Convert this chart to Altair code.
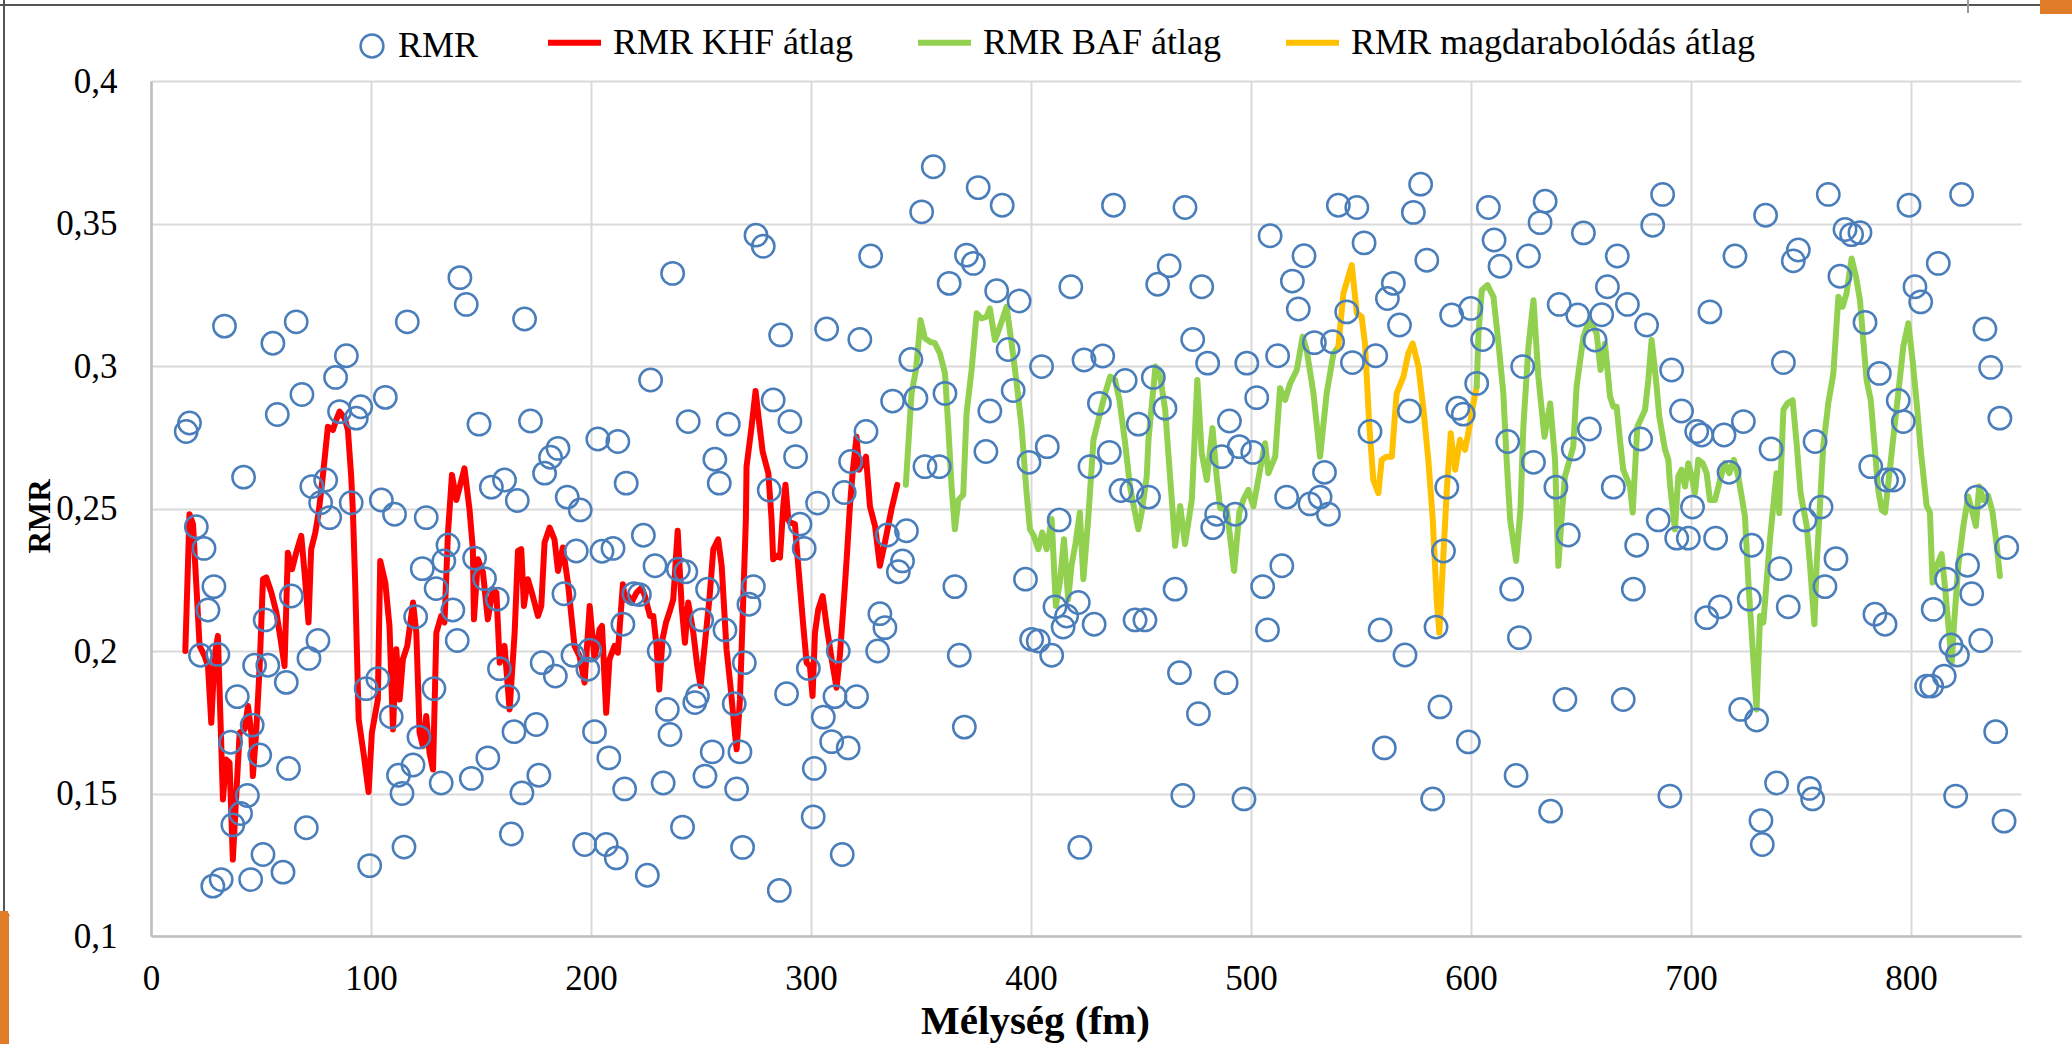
import altair as alt
import pandas as pd

# Individual RMR measurements: depth (fm) and RMR value
rmr_depth = [
    33.4, 55.4, 66, 88.8, 83.9, 68.6, 57.4, 17.5, 16, 42.1, 85.7, 95.3, 93.3, 106.5, 116.5, 140.4, 143.3, 169.8,
    149.1, 172.5, 203.1, 212.2, 185, 181.6, 178.9, 216, 73.1, 79.4, 77.1, 91, 104.7, 154.7, 160.7, 166.5, 189.2, 195.1,
    20.6, 24.1, 28.6, 25.9, 22.5, 30.4, 39.2, 46, 36.2, 49.4, 43.8, 40.7, 37.2, 70.6, 50.9, 31.9, 28.1, 45.3, 60,
    62.5, 47.1, 53.1, 61.5, 51.9, 63.8, 71.8, 75.9, 81.2, 97.8, 103.1, 109.2, 99.4, 110.7, 125.1, 123.3, 135, 133.1,
    129.6, 120.3, 137.2, 139.2, 128.6, 121.8, 112.5, 119.1, 114.1, 115, 131.9, 145.6, 153.1, 165, 175.1, 168.6,
    176.3, 163.8, 147.1, 151.6, 157.4, 158.4, 162.2, 177.8, 183.8, 193.3, 187.7, 205, 210, 191.8, 199.4, 198.6,
    201.6, 208.1, 215.3, 197.1, 206.9, 211.5, 214.5,
    355.6, 376, 386.9, 350.3, 275, 278.3, 237.1, 327.1, 370.7, 373.8, 362.8, 384.4, 394.6, 418.1, 286.2, 307.1,
    322.2, 345.4, 389.6, 404.8, 424.1, 227.1, 282.8, 290.4, 244.2, 262.4, 256.3, 258.3, 293, 281, 303, 315.1, 325,
    318, 337.1, 347.7, 360.9, 381.3, 391.9, 351.8, 358.3, 379.5, 407.4, 399.1,
    223.8, 229.1, 239.7, 243.1, 219.5, 222, 231, 253, 250.3, 260.9, 273.8, 271.8, 269.7, 248.4, 247.2, 234.7, 235.9,
    265.1, 255.1, 267.7, 251.8, 232.8, 266.2, 241.6, 225.6, 268.9, 285.6, 288.9, 298.8, 295, 296.9, 305.6, 310.9,
    320.7, 309.4, 316.9, 301.5, 301, 314.2, 312.4, 330.3, 331.3, 333.6, 334.7, 343.4, 341.6, 339.7, 365.4, 367.4,
    369.7, 397.5, 410.9, 421.5, 416.2, 414.6, 400.3, 403.3, 409.4, 412.8, 422.2,
    437.5, 470, 539.7, 548.1, 577.1, 573.8, 607.9, 633.7, 631.4, 508.7, 524.1, 551.4, 579.9, 610.5, 613.2, 626.1,
    462.8, 457.6, 477.6, 518.8, 521.5, 564.7, 562, 567.5, 543.5, 591.2, 599.9, 605.3, 473.5, 528.8, 537.1, 512.1,
    546.1, 556.7, 498.1, 480.3, 432.6, 623.5, 602.6, 442.8, 455.6, 431.1, 460.9, 448.8, 502.6, 490.2, 572, 594,
    596.5, 554.1, 616.7, 435.6, 426.8, 486.7, 494.7, 500.8, 533.4, 628.4, 589, 440.9, 445.8, 453.4, 516.2, 526.8,
    531.4,
    484.4, 482.6, 492.8, 535.2, 587.5, 584.1, 558.7, 570, 585.9, 598.8, 560.6, 582.6, 618.5, 622, 620.5, 636.2,
    428.7, 447.3, 451.8, 465.5, 467.5, 488.7, 476.1, 469, 496.8, 505.3, 514, 507.5,
    687.1, 682.6, 651.1, 666.5, 662, 640.1, 648.5, 659.4, 671.1, 679.8, 656.4, 691.2, 733.9, 762.4, 799.1, 823,
    770, 773, 776.8, 720, 748.8, 746.5, 767.7, 812.4, 801.8, 804.4, 708.6, 779.1, 833.6, 836.2, 840.4, 742, 785.6,
    794.2, 796.5, 653.8, 646.5, 677.1, 695.7, 702.6, 704.8, 715, 723.8, 736.4, 756.4, 717.3, 781.7, 788.9, 792,
    638.6, 664.7, 829.8, 700.7, 759.1,
    644.2, 675.3, 685.1, 693.5, 698.8, 711.2, 673.8, 727.6, 740.4, 751.8, 765.9, 760.9, 744.2, 726.5, 713.2,
    707.1, 783.6, 788.2, 843.5, 825.7, 816.2, 827.6, 810.1, 831.7, 818.2, 821.1, 815.1, 807.1, 809.4, 642.7, 669.2,
    722.6, 729.8, 838.5, 738.9, 753.8, 755.3, 690.4, 820.3, 842.3, 731.8, 732.4,
]
rmr_value = [
    0.314, 0.308, 0.3155, 0.3036, 0.296, 0.290, 0.283, 0.280, 0.277, 0.261, 0.284, 0.2857, 0.2817, 0.289, 0.3155,
    0.331, 0.3216, 0.3165, 0.2796, 0.2807, 0.2744, 0.2735, 0.2711, 0.268, 0.2624, 0.2589, 0.2577, 0.26, 0.252, 0.252,
    0.253, 0.2575, 0.26, 0.2528, 0.254, 0.2495,
    0.2436, 0.236, 0.2226, 0.2144, 0.1985, 0.1988, 0.184, 0.174, 0.168, 0.1635, 0.1493, 0.143, 0.139, 0.138, 0.1286,
    0.1198, 0.1175, 0.1198, 0.1224, 0.1588, 0.195, 0.195, 0.189, 0.2109, 0.2193, 0.1974, 0.2037, 0.2468, 0.1868,
    0.1903, 0.1769, 0.1247, 0.248, 0.2468, 0.2289, 0.2372, 0.2316, 0.2219, 0.212, 0.2144, 0.2037, 0.1868, 0.1698,
    0.1564, 0.16, 0.15, 0.1312, 0.1537, 0.1553, 0.1625, 0.1717, 0.1742, 0.1502, 0.1564, 0.1358, 0.2326, 0.2254,
    0.2182, 0.1938, 0.184, 0.1959, 0.1912, 0.2351, 0.2201, 0.235, 0.236, 0.1985, 0.2003, 0.1936, 0.1717, 0.1625,
    0.1516, 0.1321, 0.1321, 0.1274, 0.2094,
    0.3699, 0.3626, 0.3564, 0.3541, 0.3459, 0.342, 0.3325, 0.3386, 0.3389, 0.336, 0.329, 0.3264, 0.3228, 0.3278,
    0.3109, 0.313, 0.3093, 0.3023, 0.3058, 0.2998, 0.3021, 0.2951, 0.2881, 0.2805, 0.2805, 0.2796, 0.2673, 0.2589,
    0.2682, 0.2565, 0.2519, 0.2556, 0.277, 0.2665, 0.2877, 0.2887, 0.2904, 0.2842, 0.2914, 0.2647, 0.2647, 0.270,
    0.2717, 0.2662,
    0.2406, 0.2299, 0.2287, 0.2278, 0.2201, 0.2198, 0.2, 0.2217, 0.2109, 0.2074, 0.2226, 0.2164, 0.1959, 0.1842,
    0.1819, 0.1795, 0.1707, 0.1815, 0.1646, 0.1646, 0.1561, 0.1537, 0.1516, 0.1382, 0.1213, 0.1311, 0.116, 0.185,
    0.1939, 0.2445, 0.236, 0.1768, 0.184, 0.184, 0.1682, 0.166, 0.1588, 0.1418, 0.1286, 0.2, 0.2, 0.2131, 0.2082,
    0.2407, 0.2422, 0.2316, 0.2278, 0.2226, 0.1985, 0.1733, 0.2252, 0.2155, 0.217, 0.2123, 0.2084, 0.2041, 0.2035,
    0.1985, 0.246, 0.1311,
    0.3564, 0.3556, 0.3564, 0.3556, 0.3638, 0.3539, 0.3556, 0.3578, 0.3503, 0.3457, 0.3387, 0.3432, 0.3371, 0.3442,
    0.335, 0.3386, 0.3352, 0.3287, 0.3278, 0.3298, 0.32, 0.329, 0.3237, 0.3144, 0.319, 0.3179, 0.3202, 0.3093,
    0.3093, 0.3082, 0.3085, 0.3036, 0.3012, 0.3036, 0.301, 0.301, 0.3035, 0.2998, 0.2939, 0.2949, 0.296, 0.2869,
    0.2852, 0.2796, 0.2889, 0.2807, 0.2842, 0.2852, 0.2831, 0.277, 0.2735, 0.2697, 0.2647, 0.2682, 0.2717, 0.2697,
    0.2627, 0.2662, 0.2575, 0.2563, 0.2563, 0.254, 0.254, 0.2516, 0.254,
    0.248, 0.2433, 0.248, 0.248, 0.2351, 0.2084, 0.2074, 0.1986, 0.1804, 0.1681, 0.166, 0.1481, 0.2217, 0.2047,
    0.1563, 0.1438, 0.2094, 0.2109, 0.2109, 0.2217, 0.1924, 0.1889, 0.178, 0.1493, 0.1481, 0.2226, 0.2299, 0.2074,
    0.3602, 0.3494, 0.3467, 0.3386, 0.3278, 0.3216, 0.3179, 0.318, 0.3216, 0.3144, 0.3091, 0.2986, 0.3529, 0.3602,
    0.3564, 0.3602, 0.3479, 0.3461, 0.3468, 0.3386, 0.3407, 0.3369, 0.3315, 0.336, 0.3278, 0.3225, 0.319, 0.3153,
    0.313, 0.2995, 0.2817, 0.3012, 0.2974, 0.2879, 0.2805, 0.2779, 0.2709, 0.2744, 0.2842, 0.277, 0.2758, 0.2758,
    0.2805, 0.2709, 0.2735, 0.2627, 0.2647, 0.26, 0.26, 0.2575, 0.2575, 0.254, 0.2505, 0.2505,
    0.2407, 0.2371, 0.246, 0.2396, 0.2396, 0.2396, 0.2217, 0.2371, 0.2289, 0.246, 0.2324, 0.2226, 0.2155, 0.2182,
    0.2155, 0.2117, 0.2129, 0.2094, 0.2363, 0.2301, 0.2252, 0.2201, 0.2146, 0.2037, 0.2021, 0.1986, 0.1912, 0.1877,
    0.1877, 0.183, 0.183, 0.1795, 0.1758, 0.1717, 0.1537, 0.1518, 0.1481, 0.1491, 0.1491, 0.1403, 0.1405, 0.1321,
]

# Running averages per zone
khf_depth = [
    15.6, 17.5, 19.1, 22.1, 24.4, 25.9, 27.4, 28.9, 30.4, 32.7, 34.2, 35.7, 37.2, 38.8, 40.3, 42.5, 44.1, 45.6, 46.3,
    47.8, 49.4, 50.9, 52.4, 54.7, 57.0, 58.9, 60.7, 62.2, 64.1, 66.0, 68.3, 69.8, 71.6, 72.8, 74.7, 76.2, 78.1, 80.4,
    82.7, 84.2, 85.7, 88.0, 89.5, 91.0, 91.8, 92.8, 94.4, 96.8, 98.9, 100.4, 103.1, 104.2, 106.5, 108.4, 110.0,
    111.5, 113.0, 114.5, 116.5, 119.1, 120.6, 122.1, 123.6, 125.1, 126.6, 128.2, 129.7, 131.9, 133.4, 135.0, 136.8,
    138.8, 142.5, 144.8, 146.3, 146.8, 148.6, 150.9, 153.1, 155.4, 157.0, 158.5, 160.7, 163.0, 165.3, 166.8, 168.3,
    169.5, 171.3, 173.1, 175.9, 177.4, 178.9, 181.2, 183.4, 185.0, 187.2, 189.5, 192.5, 194.8, 197.1, 199.4, 201.6,
    203.9, 205.0, 206.9, 208.4, 210.7, 212.2, 214.5, 215.4, 216.9, 218.4, 220.7, 223.0, 224.5, 226.8, 228.3, 229.8,
    231.0, 232.5, 234.1, 235.6, 237.4, 239.4, 241.2, 242.7, 244.2, 246.5, 248.3, 249.8, 251.8, 253.8, 255.6, 257.8,
    259.4, 261.6, 263.4, 265.4, 266.2, 267.7, 269.2, 270.4, 270.7, 273.0, 274.8, 276.3, 278.0, 280.6, 282.1, 282.8,
    284.4, 285.9, 287.4, 288.4, 289.7, 290.4, 292.7, 294.2, 296.5, 298.0, 299.5, 300.7, 301.8, 303.3, 305.3, 307.1,
    309.4, 311.6, 313.1, 315.4, 316.5, 317.7, 318.9, 320.7, 321.9, 325.0, 326.8, 329.1, 331.3, 333.6, 336.6, 339.2,
]
khf_value = [
    0.200, 0.248, 0.2445, 0.2018, 0.1982, 0.1947, 0.1748, 0.1982, 0.2053, 0.1479, 0.1619, 0.1608, 0.1268, 0.1502,
    0.1713, 0.1725, 0.1807, 0.1713, 0.1561, 0.1713, 0.1947, 0.2252, 0.2258, 0.2205, 0.2135, 0.2041, 0.1947, 0.2345,
    0.2287, 0.2345, 0.2404, 0.2275, 0.21, 0.2357, 0.2416, 0.2486, 0.2612, 0.2787, 0.2776, 0.2811, 0.284, 0.2817,
    0.2776, 0.2612, 0.2486, 0.224, 0.176, 0.1631, 0.1505, 0.1713, 0.183, 0.2316, 0.224, 0.2088, 0.1725, 0.2006,
    0.183, 0.1971, 0.2018, 0.217, 0.2064, 0.1713, 0.1666, 0.1772, 0.1643, 0.1584, 0.2064, 0.2123, 0.21, 0.2416,
    0.2618, 0.253, 0.2641, 0.2495, 0.2357, 0.2111, 0.2322, 0.2275, 0.2111, 0.2217, 0.2205, 0.1959, 0.2018, 0.1795,
    0.2064, 0.2351, 0.2357, 0.2158, 0.2252, 0.2205, 0.2123, 0.2158, 0.2381, 0.2433, 0.2392, 0.2281, 0.2363, 0.224,
    0.2018, 0.1982, 0.1889, 0.2158, 0.1971, 0.2076, 0.2088, 0.1783, 0.1971, 0.2018, 0.1994, 0.2234, 0.2181, 0.2193,
    0.217, 0.2205, 0.2222, 0.2193, 0.2123, 0.2123, 0.2018, 0.1865, 0.2041, 0.21, 0.2135, 0.2181, 0.2422, 0.2158,
    0.2029, 0.217, 0.2064, 0.1947, 0.1877, 0.2029, 0.2181, 0.2357, 0.2392, 0.2299, 0.2006, 0.1877, 0.1713, 0.1655,
    0.183, 0.2181, 0.2463, 0.2647, 0.2787, 0.2912, 0.2811, 0.27, 0.2624, 0.246, 0.2322, 0.2334, 0.2328, 0.2509,
    0.2583, 0.246, 0.2451, 0.2445, 0.2299, 0.2088, 0.1959, 0.1947, 0.1842, 0.2064, 0.2146, 0.2193, 0.2088, 0.1971,
    0.1871, 0.1982, 0.2228, 0.2357, 0.2509, 0.2624, 0.2752, 0.2636, 0.2682, 0.2507, 0.2439, 0.2299, 0.2381, 0.2498,
    0.2583,
]

baf_upper_depth = [
    343.1, 345.7, 347.7, 349.8, 351.8, 354.1, 356.3, 358.6, 360.9, 362.4, 363.9, 365.4, 367.0, 369.2, 370.7, 373.0,
    375.3, 377.5, 379.8, 381.3, 383.6, 385.9, 388.9, 391.2, 393.5, 395.7, 398.0, 399.5, 401.3, 403.3, 405.1, 407.1,
    409.4, 411.3, 413.1, 415.0, 416.9, 418.4, 420.3, 422.2, 423.8, 426.0, 428.4, 431.4, 433.7, 436.0, 438.2, 440.2,
    442.8, 445.0, 447.3, 448.8, 450.3, 452.6, 453.4, 456.6, 458.7, 461.0, 463.2, 464.7, 465.5, 467.8, 470.0, 473.1,
    475.6, 477.6, 479.9, 482.5, 484.4, 486.0, 489.0, 492.3, 494.7, 496.5, 498.8, 501.1, 504.1, 506.4, 507.9, 511.0,
    513.2, 515.5, 517.8, 520.8, 523.5, 525.3, 528.4, 531.4, 534.4, 537.5, 539.7,
]
baf_upper_value = [
    0.2583, 0.2904, 0.2986, 0.3161, 0.3097, 0.3085, 0.308, 0.3044, 0.2974, 0.2787, 0.2577, 0.2427, 0.253, 0.2548,
    0.2834, 0.2986, 0.3185, 0.3167, 0.3173, 0.3202, 0.3091, 0.3138, 0.3208, 0.3079, 0.2939, 0.2787, 0.2554, 0.2427,
    0.2404, 0.2357, 0.2416, 0.2357, 0.2463, 0.2158, 0.224, 0.2392, 0.2181, 0.2299, 0.238, 0.2486, 0.2252, 0.2463,
    0.2741, 0.2834, 0.2904, 0.2963, 0.2951, 0.2881, 0.2729, 0.2577, 0.2484, 0.2427, 0.2486, 0.2612, 0.2741, 0.2998,
    0.2963, 0.2846, 0.2612, 0.246, 0.2369, 0.2509, 0.2375, 0.253, 0.2951, 0.2694, 0.26, 0.2782, 0.2612, 0.2501,
    0.2498, 0.2281, 0.2486, 0.253, 0.2565, 0.2507, 0.2636, 0.2729, 0.2624, 0.2682, 0.2922, 0.2881, 0.2939, 0.2986,
    0.3103, 0.3056, 0.2904, 0.2682, 0.2904, 0.3044, 0.3068,
]

magd_depth = [
    539.7, 542.0, 545.8, 548.1, 550.3, 551.8, 553.8, 555.6, 557.9, 559.4, 561.7, 564.0, 566.2, 569.3, 571.5, 573.5,
    576.1, 578.4, 580.6, 582.6, 584.4, 585.6, 587.2, 589.0, 590.8, 592.8, 595.0, 597.3, 599.3, 601.1, 602.6,
]
magd_value = [
    0.3068, 0.3255, 0.3354, 0.3185, 0.3173, 0.3079, 0.2787, 0.26, 0.2554, 0.2671, 0.2682, 0.2682, 0.2904, 0.2963,
    0.3044, 0.3079, 0.2998, 0.2846, 0.2671, 0.2463, 0.2181, 0.2064, 0.2299, 0.2565, 0.2764, 0.2636, 0.2741, 0.2706,
    0.2787, 0.2869, 0.2928,
]

baf_lower_depth = [
    602.6, 603.4, 604.9, 607.5, 610.2, 612.5, 614.7, 616.2, 617.8, 620.5, 622.5, 623.8, 626.1, 628.4, 630.6, 633.4,
    636.0, 638.2, 639.7, 641.5, 642.7, 646.5, 648.0, 651.1, 653.8, 655.6, 657.1, 658.9, 660.9, 663.2, 664.7, 666.2,
    667.7, 669.2, 672.3, 673.5, 675.6, 679.1, 680.6, 682.1, 684.1, 685.6, 688.2, 689.7, 690.4, 692.7, 694.2, 695.7,
    697.3, 698.8, 700.3, 701.8, 703.3, 705.3, 707.1, 708.6, 710.9, 713.2, 715.4, 717.4, 719.5, 721.5, 724.5, 726.1,
    729.8, 731.4, 732.9, 735.9, 738.9, 740.1, 742.0, 743.8, 746.2, 748.0, 749.8, 752.6, 754.1, 756.1, 757.1, 758.6,
    760.1, 762.4, 764.7, 767.0, 768.9, 770.7, 773.0, 775.0, 776.8, 778.3, 779.8, 781.7, 783.6, 785.1, 786.7, 788.2,
    789.7, 792.0, 794.2, 796.5, 798.8, 800.7, 802.6, 804.4, 807.1, 808.6, 809.8, 811.7, 813.9, 815.4, 818.5, 819.5,
    821.5, 823.8, 826.0, 829.5, 831.0, 832.9, 835.0, 837.0, 839.0, 840.4,
]
baf_lower_value = [
    0.2928, 0.3114, 0.3266, 0.3284, 0.3243, 0.3079, 0.2904, 0.2671, 0.246, 0.2316, 0.25, 0.2787, 0.3068, 0.3231,
    0.2963, 0.2752, 0.2869, 0.2671, 0.2299, 0.25, 0.2612, 0.2717, 0.2928, 0.3103, 0.3161, 0.3138, 0.3114, 0.2986,
    0.3079, 0.2893, 0.2857, 0.2857, 0.2741, 0.2636, 0.2577, 0.2486, 0.2787, 0.2846, 0.2951, 0.3091, 0.2951, 0.2822,
    0.2706, 0.2671, 0.2589, 0.2427, 0.2612, 0.2636, 0.2577, 0.2659, 0.2612, 0.2554, 0.2671, 0.2659, 0.2624, 0.253,
    0.253, 0.26, 0.2659, 0.2624, 0.2671, 0.2612, 0.2474, 0.224, 0.1795, 0.2123, 0.21, 0.2392, 0.2624, 0.2484, 0.2846,
    0.2869, 0.288, 0.2729, 0.2554, 0.2439, 0.2299, 0.2094, 0.2299, 0.2507, 0.2717, 0.2869, 0.2974, 0.3243, 0.3208,
    0.3255, 0.3377, 0.3313, 0.3231, 0.3091, 0.2951, 0.2881, 0.2706, 0.2565, 0.2495, 0.2486, 0.2589, 0.2752, 0.2904,
    0.3068, 0.315, 0.3021, 0.2869, 0.2706, 0.251, 0.2486, 0.224, 0.2299, 0.234, 0.2228, 0.1959, 0.2088, 0.2299,
    0.2439, 0.2542, 0.2439, 0.2577, 0.253, 0.2545, 0.249, 0.2369, 0.2263,
]

series_names = ["RMR KHF átlag", "RMR BAF átlag", "RMR magdarabolódás átlag"]
series_colors = ["#ff0000", "#92d050", "#ffc000"]
x_ticks = [0, 100, 200, 300, 400, 500, 600, 700, 800]
y_ticks = [0.1, 0.15, 0.2, 0.25, 0.3, 0.35, 0.4]

FONT = "Liberation Serif, Times New Roman, DejaVu Serif, serif"

points = pd.DataFrame({"depth": rmr_depth, "value": rmr_value, "label": "RMR"})

parts = [
    (khf_depth, khf_value, series_names[0], "khf"),
    (baf_upper_depth, baf_upper_value, series_names[1], "baf1"),
    (magd_depth, magd_value, series_names[2], "magd"),
    (baf_lower_depth, baf_lower_value, series_names[1], "baf2"),
]
lines = pd.concat(
    [pd.DataFrame({"depth": d, "value": v, "series": s, "part": p}) for d, v, s, p in parts],
    ignore_index=True,
)

x_enc = alt.X(
    "depth:Q",
    scale=alt.Scale(domain=[0, 850], nice=False, zero=False),
    axis=alt.Axis(
        values=x_ticks,
        title="Mélység (fm)",
        titleFontSize=41,
        titleX=884,
        titleY=85,
        titleAlign="center",
        titleBaseline="middle",
        labelPadding=25,
        labelFlush=False,
    ),
)
y_enc = alt.Y(
    "value:Q",
    scale=alt.Scale(domain=[0.1, 0.4], nice=False, zero=False),
    axis=alt.Axis(
        values=y_ticks,
        labelExpr="replace(format(datum.value, '.2~f'), '.', ',')",
        title="RMR",
        titleFontSize=31,
        titleX=-111,
        titleY=435,
        titleAngle=270,
        titleAlign="center",
        titleBaseline="middle",
        labelPadding=34,
    ),
)

line_layer = alt.Chart(lines).mark_line(strokeWidth=6, strokeJoin="round", strokeCap="round").encode(
    x=x_enc,
    y=y_enc,
    detail="part:N",
    color=alt.Color(
        "series:N",
        scale=alt.Scale(domain=series_names, range=series_colors),
        legend=alt.Legend(
            title=None,
            orient="none",
            direction="horizontal",
            legendX=394,
            legendY=-68,
            symbolType="stroke",
            symbolStrokeWidth=6,
            symbolSize=2809,
            labelOffset=9,
            columnPadding=52,
            padding=0,
        ),
    ),
)

point_layer = alt.Chart(points).mark_point(
    filled=False, size=500, strokeWidth=2.5, color="#4a7ebb", opacity=1
).encode(
    x=x_enc,
    y=y_enc,
    shape=alt.Shape(
        "label:N",
        scale=alt.Scale(domain=["RMR"], range=["circle"]),
        legend=alt.Legend(
            title=None,
            orient="none",
            legendX=203,
            legendY=-53,
            symbolSize=520,
            symbolStrokeWidth=2.5,
            symbolStrokeColor="#4a7ebb",
            symbolFillColor="transparent",
            labelOffset=8,
            padding=0,
        ),
    ),
)

# Page frame: thin edge lines and the orange corner accents of the slide
frame_top = alt.Chart(points).mark_rule(color="#555555", strokeWidth=2).encode(
    x=alt.value(-151), x2=alt.value(1921), y=alt.value(-76)
)
frame_left = alt.Chart(points).mark_rule(color="#555555", strokeWidth=2).encode(
    x=alt.value(-147), y=alt.value(-81), y2=alt.value(963)
)
frame_right_tick = alt.Chart(points).mark_rule(color="#9a9a9a", strokeWidth=2).encode(
    x=alt.value(1817), y=alt.value(-81), y2=alt.value(-68)
)
accent_bottom_left = alt.Chart(points).mark_rect(color="#e07b28", cornerRadiusTopRight=8).encode(
    x=alt.value(-151), x2=alt.value(-142), y=alt.value(830), y2=alt.value(963)
)
accent_top_right = alt.Chart(points).mark_rule(color="#e07b28", strokeWidth=14).encode(
    x=alt.value(1889), x2=alt.value(1921), y=alt.value(-74)
)

chart = (
    alt.layer(
        line_layer, point_layer, frame_top, frame_left, frame_right_tick, accent_bottom_left, accent_top_right
    )
    .properties(
        width=1870,
        height=855,
        padding={"left": 151, "top": 81, "right": 51, "bottom": 108},
        autosize=alt.AutoSizeParams(type="none"),
        background="white",
    )
    .configure_view(stroke=None)
    .configure_axis(
        grid=True,
        gridColor="#d9d9d9",
        gridWidth=2,
        domainColor="#bfbfbf",
        domainWidth=2.5,
        ticks=False,
        labelFont=FONT,
        labelFontSize=35,
        labelColor="black",
        titleFont=FONT,
        titleFontWeight="bold",
        titleColor="black",
    )
    .configure_legend(
        labelFont=FONT,
        labelFontSize=36,
        labelColor="black",
        labelLimit=0,
    )
)

chart.save("out.html", embed_options={"renderer": "svg", "actions": False})
